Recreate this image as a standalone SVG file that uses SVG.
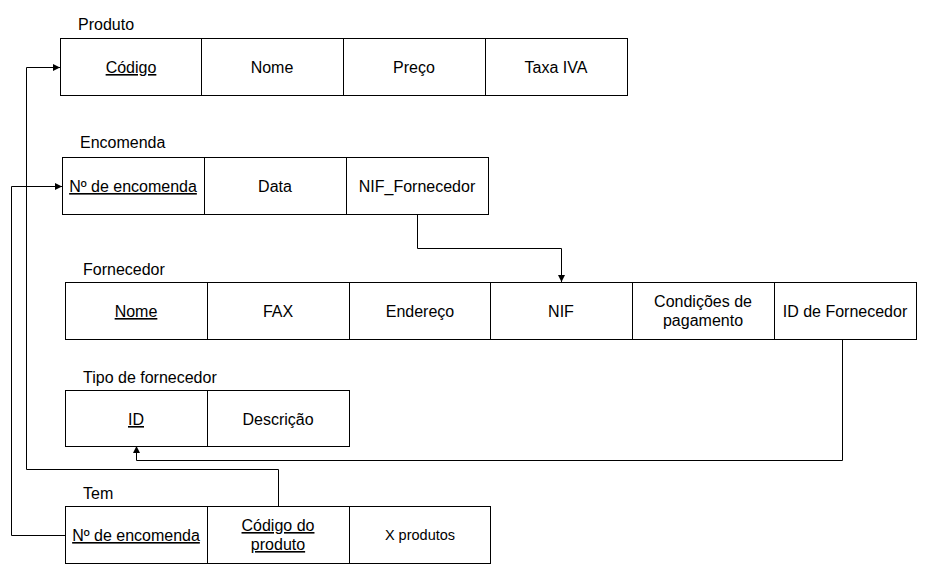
<svg xmlns="http://www.w3.org/2000/svg" width="927" height="574" viewBox="0 0 927 574">
<style>
.b{fill:#fff;stroke:#000;stroke-width:1}
.c{stroke:#000;stroke-width:1;fill:none}
text{font-family:"Liberation Sans",Arial,Helvetica,sans-serif;font-size:16px;fill:#000}
.m{text-anchor:middle}
.u{text-decoration:underline}
.s{font-size:14.5px}
</style>
<defs>
<marker id="a" viewBox="0 0 10 10" refX="10" refY="5" markerWidth="7" markerHeight="7" markerUnits="userSpaceOnUse" orient="auto"><path d="M0,0L10,5L0,10z" fill="#000"/></marker>
</defs>
<rect width="927" height="574" fill="#fff"/>
<g id="produto">
<text x="78" y="30">Produto</text>
<rect class="b" x="60.5" y="38.5" width="567" height="57"/>
<path class="c" d="M201.5,38.5V95.5M343.5,38.5V95.5M485.5,38.5V95.5"/>
<text x="131" y="73" class="m u">Código</text>
<text x="272" y="73" class="m">Nome</text>
<text x="414" y="73" class="m">Preço</text>
<text x="556" y="73" class="m">Taxa IVA</text>
</g>
<g id="encomenda">
<text x="80" y="148">Encomenda</text>
<rect class="b" x="62.5" y="157.5" width="426" height="57"/>
<path class="c" d="M204.5,157.5V214.5M346.5,157.5V214.5"/>
<text x="133" y="192" class="m u">Nº de encomenda</text>
<text x="275" y="192" class="m">Data</text>
<text x="417" y="192" class="m">NIF_Fornecedor</text>
</g>
<g id="fornecedor">
<text x="83" y="275">Fornecedor</text>
<rect class="b" x="65.5" y="282.5" width="851" height="57"/>
<path class="c" d="M207.5,282.5V339.5M349.5,282.5V339.5M490.5,282.5V339.5M632.5,282.5V339.5M774.5,282.5V339.5"/>
<text x="136" y="317" class="m u">Nome</text>
<text x="278" y="317" class="m">FAX</text>
<text x="420" y="317" class="m">Endereço</text>
<text x="561" y="317" class="m">NIF</text>
<text x="703" y="307" class="m">Condições de</text>
<text x="703" y="326" class="m">pagamento</text>
<text x="845" y="317" class="m">ID de Fornecedor</text>
</g>
<g id="tipo">
<text x="83" y="383">Tipo de fornecedor</text>
<rect class="b" x="65.5" y="390.5" width="284" height="56"/>
<path class="c" d="M207.5,390.5V446.5"/>
<text x="136" y="425" class="m u">ID</text>
<text x="278" y="425" class="m">Descrição</text>
</g>
<g id="tem">
<text x="83" y="499">Tem</text>
<rect class="b" x="65.5" y="506.5" width="425" height="57"/>
<path class="c" d="M207.5,506.5V563.5M349.5,506.5V563.5"/>
<text x="136" y="541" class="m u">Nº de encomenda</text>
<text x="278" y="531" class="m u">Código do</text>
<text x="278" y="550" class="m u">produto</text>
<text x="420" y="540" class="m s">X produtos</text>
</g>
<g id="connectors">
<path class="c" marker-end="url(#a)" d="M278.5,506V469.5H26.5V67.5H60"/>
<path class="c" marker-end="url(#a)" d="M65,535.5H11.5V186.5H62"/>
<path class="c" marker-end="url(#a)" d="M417.5,214V248.5H561.5V282"/>
<path class="c" marker-end="url(#a)" d="M842.5,339V460.5H136.5V446"/>
</g>
</svg>
